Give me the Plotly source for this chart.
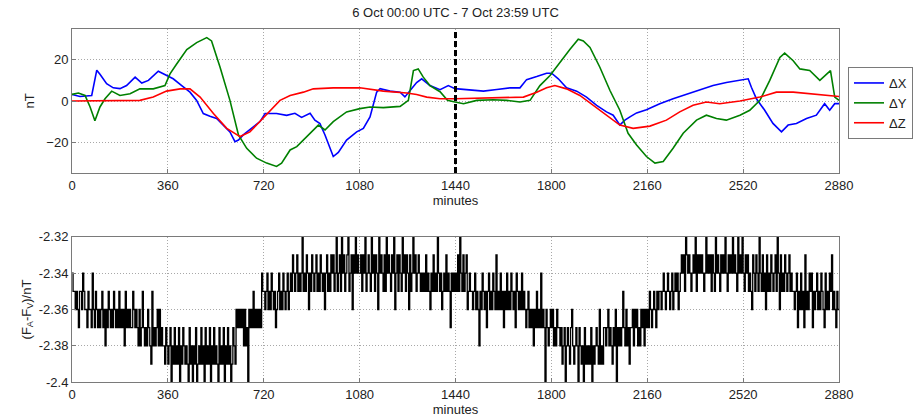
import plotly.graph_objects as go

# ---- magnetic field differences (nT), minute of the two-day window ----
DX = [(0, 3.2), (30, 2.2), (74, 2.7), (93, 15), (105, 13), (130, 8.4), (155, 6.4), (180, 6),
      (205, 7.5), (237, 11.6), (262, 8.7), (287, 10), (324, 14.5), (355, 12.4), (380, 10.8),
      (412, 7.5), (443, 4.3), (468, 0.3), (493, -6.1), (518, -7.4), (543, -8.5), (568, -11.7),
      (593, -15), (612, -19.8), (625, -19), (643, -16.5), (681, -12.5), (706, -10), (725, -6.1),
      (768, -6.1), (806, -7), (837, -6), (862, -8), (894, -6), (912, -9.3), (931, -11),
      (950, -16.5), (981, -27), (1000, -25), (1031, -19), (1069, -15), (1094, -13.3),
      (1119, -7.7), (1144, 4.3), (1157, 6), (1194, 4.8), (1232, 4.3), (1250, 2), (1275, 6),
      (1294, 9), (1313, 10.8), (1344, 7.5), (1382, 5.5), (1413, 7.5), (1438, 6), (1507, 5.1),
      (1545, 4.8), (1595, 5.6), (1645, 6.4), (1682, 6.4), (1707, 10.4), (1745, 11.9),
      (1782, 13.5), (1801, 13.5), (1826, 10.8), (1857, 6.4), (1895, 4.8), (1932, 1.9),
      (1970, -2.1), (2007, -5.3), (2032, -6.9), (2057, -11.7), (2076, -9.3), (2095, -7.7),
      (2120, -5.8), (2157, -4.2), (2207, -1.3), (2257, 1.1), (2307, 3.2), (2357, 5.1),
      (2407, 7.5), (2457, 9), (2508, 10), (2539, 10.8), (2551, 6.7), (2570, 1.1), (2601, -4.5),
      (2632, -10.9), (2664, -15), (2689, -11.7), (2720, -10.9), (2758, -8.5), (2795, -6.9),
      (2826, -1.3), (2845, -4.5), (2864, -1.3), (2880, -1.3)]

DY = [(0, 3.2), (24, 3.9), (49, 2.7), (68, -2.9), (86, -9.6), (105, -2.9), (124, 1.1),
      (149, 4.8), (180, 2.7), (218, 3.5), (255, 5.9), (305, 5.9), (349, 7.5), (368, 13.2),
      (393, 18), (431, 25), (468, 28.4), (506, 30.8), (524, 29.2), (556, 16.4), (593, 0.3),
      (625, -16.5), (656, -23), (693, -27.8), (731, -30.2), (768, -31.8), (787, -30.2),
      (819, -23.8), (844, -22.2), (869, -19), (894, -15.7), (925, -11.7), (950, -14.1),
      (981, -10), (1031, -5.3), (1081, -3.7), (1119, -2.9), (1169, -3.2), (1232, -2.6),
      (1263, 0.3), (1282, 14.8), (1300, 15.6), (1319, 11.6), (1344, 7.5), (1382, 4.5),
      (1410, 0.3), (1438, -0.5), (1470, -1.3), (1520, 0.3), (1582, 0.6), (1632, 0.3),
      (1682, -0.5), (1720, 0.3), (1757, 7.5), (1795, 12.4), (1832, 18.8), (1870, 25.2),
      (1901, 30), (1920, 29.2), (1945, 26), (1982, 16.4), (2020, 5.1), (2057, -4.5),
      (2088, -15.7), (2120, -21.4), (2157, -27), (2189, -30.2), (2220, -29.4), (2257, -23),
      (2295, -15.7), (2345, -9.3), (2382, -6.9), (2420, -8.5), (2457, -9.3), (2508, -6.9),
      (2545, -4.5), (2583, 0.3), (2620, 10), (2658, 21.2), (2676, 23.3), (2708, 19.6),
      (2733, 15.6), (2770, 14.8), (2808, 10), (2833, 13.2), (2848, 14.8), (2864, 1.9),
      (2880, 0.3)]

DZ = [(0, 0), (105, 0), (255, 0.3), (305, 1.9), (355, 4.8), (406, 5.9), (443, 5.9), (481, 1.9),
      (531, -6.1), (581, -13.3), (631, -17.3), (668, -15), (706, -10), (744, -4.5), (781, 0.3),
      (819, 2.7), (869, 4.3), (906, 5.9), (981, 6.4), (1081, 6.4), (1169, 4.8), (1257, 3.9),
      (1294, 3.2), (1332, 1.9), (1382, 1.1), (1438, 1.1), (1570, 1.6), (1695, 1.9), (1745, 4.3),
      (1782, 6.4), (1813, 7.5), (1857, 5.9), (1907, 2.7), (1957, -2.1), (2007, -6.9),
      (2057, -11.7), (2107, -13.3), (2170, -12.2), (2232, -9.3), (2282, -5.3), (2332, -2.1),
      (2382, -0.5), (2432, -1.3), (2508, 0), (2583, 1.9), (2645, 4.3), (2708, 4.3), (2783, 3.5),
      (2880, 2.2)]

MARKER_MINUTE = 1440

# ---- scalar difference F_A - F_V: digit d means -2.40 + d/100 nT ----
# one string per 6-hour block, samples spread evenly over the block
FD_BLOCKS = [
    "65545435546544354" "43643543434534243543435434353434253434335434"
    "3242353232432152323424232" "2132",
    "1230213121302132121031202130121312031213021312103121302131201321"
    "4343434242304343534343436" "5",
    "5456454654534564546545645" "65765675656856576465765675657656467565"
    "767568567586756785674768" "676",
    "6757685676586757648676575867657684675765867576475686756765"
    "65657565465756586564565756536565",
    "657586575674565" "54564542546545356454654745464535464546545365454645"
    "4345343424353436343043234",
    "3423243" "32312302321342123203" "21203121213021232141213"
    "3234232132403232353242313" "342434232434243",
    "435434543545" "5456545654564565645"
    "67675876765676857676765686767576586765767686576768" "676586768",
    "65767565476576586575647565765675864756576567565"
    "5456354645374546563545645465436454657454354",
]
FD_BASE = -2.40
FD_STEP = 0.01
BLOCK_MIN = 360

X_TICKS = [0, 360, 720, 1080, 1440, 1800, 2160, 2520, 2880]
Y1_TICKS = [-20, 0, 20]
Y2_TICKS = [-2.4, -2.38, -2.36, -2.34, -2.32]
Y2_TEXT = ["-2.4", "-2.38", "-2.36", "-2.34", "-2.32"]

TITLE = "6 Oct 00:00 UTC - 7 Oct 23:59 UTC"
FONT = "Liberation Sans, Arial, sans-serif"

fd_t, fd_v = [], []
for b, s in enumerate(FD_BLOCKS):
    n = len(s)
    for i, ch in enumerate(s):
        fd_t.append(b * BLOCK_MIN + i * BLOCK_MIN / n)
        fd_v.append(round(FD_BASE + int(ch) * FD_STEP, 2))
fd_t.append(2880)
fd_v.append(fd_v[-1])

fig = go.Figure()

for name, pts, color in [("ΔX", DX, "#0000ff"), ("ΔY", DY, "#008000"), ("ΔZ", DZ, "#ff0000")]:
    t, v = zip(*pts)
    fig.add_trace(go.Scatter(x=list(t), y=list(v), mode="lines", name=name,
                             line=dict(color=color, width=1.6), xaxis="x", yaxis="y"))

fig.add_trace(go.Scatter(x=fd_t, y=fd_v, mode="lines", showlegend=False,
                         line=dict(color="#000000", width=1.3, shape="hv"),
                         xaxis="x2", yaxis="y2"))

fig.add_shape(type="line", xref="x", yref="y domain", x0=MARKER_MINUTE, x1=MARKER_MINUTE,
              y0=0, y1=1, line=dict(color="#000000", width=3, dash="6px,3px"))

axis_common = dict(showline=True, mirror=True, linecolor="#7a7a7a", linewidth=1,
                   ticks="inside", ticklen=4, tickcolor="#7a7a7a",
                   showgrid=True, gridcolor="#a8a8a8", griddash="1px,2px", gridwidth=1,
                   zeroline=False, tickfont=dict(size=13, color="#222"))

X0, X1 = 72 / 915, 839 / 915
fig.update_layout(
    width=915, height=420,
    margin=dict(l=0, r=0, t=0, b=0, autoexpand=False),
    paper_bgcolor="white", plot_bgcolor="white",
    font=dict(family=FONT, size=13, color="#222"),
    title=dict(text=TITLE, x=(X0 + X1) / 2, xanchor="center", y=1 - 12 / 420, yanchor="middle",
               font=dict(size=13)),
    xaxis=dict(domain=[X0, X1], range=[0, 2880], tickvals=X_TICKS, anchor="y",
               title=dict(text="minutes", standoff=2, font=dict(size=13)), **axis_common),
    yaxis=dict(domain=[1 - 173 / 420, 1 - 29 / 420], range=[-35, 35], tickvals=Y1_TICKS,
               anchor="x", title=dict(text="nT", standoff=8, font=dict(size=13)), **axis_common),
    xaxis2=dict(domain=[X0, X1], range=[0, 2880], tickvals=X_TICKS, anchor="y2",
                title=dict(text="minutes", standoff=2, font=dict(size=13)), **axis_common),
    yaxis2=dict(domain=[1 - 382.3 / 420, 1 - 236.7 / 420], range=[-2.4, -2.32],
                tickvals=Y2_TICKS, ticktext=Y2_TEXT, anchor="x2",
                title=dict(text="(F<sub>A</sub>-F<sub>V</sub>)/nT", standoff=4,
                           font=dict(size=13)), **axis_common),
    legend=dict(x=848 / 915, y=1 - 67 / 420, xanchor="left", yanchor="top",
                bgcolor="white", bordercolor="#7a7a7a", borderwidth=1,
                font=dict(size=13), itemwidth=30, tracegroupgap=0),
    showlegend=True,
)

fig.write_html("out.html")
